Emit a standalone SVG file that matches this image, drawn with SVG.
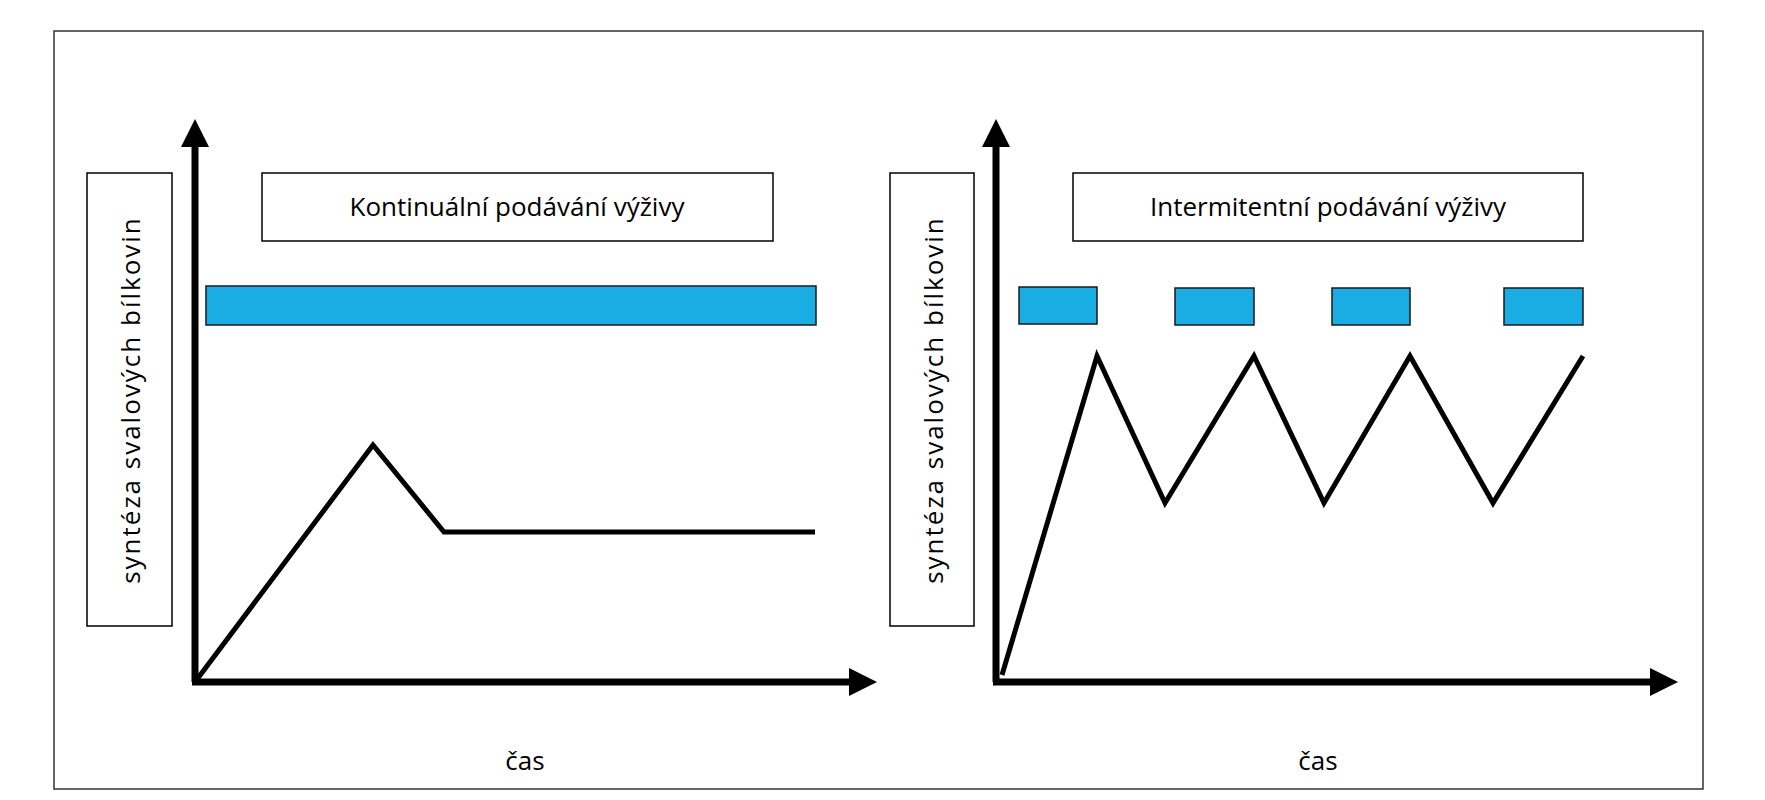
<svg xmlns="http://www.w3.org/2000/svg" width="1765" height="800" viewBox="0 0 1765 800">
<style>
.box{fill:#fff;stroke:#000;stroke-width:1.5}
.bar{fill:#19ade4;stroke:#1a1a1a;stroke-width:1.5}
.axis{stroke:#000;stroke-width:7;fill:none}
.plot{stroke:#000;stroke-width:5;fill:none;stroke-linejoin:miter}
text{font-family:"Open Sans","Liberation Sans",sans-serif;fill:#000}
.t{font-size:26px}
</style>
<defs>
<marker id="ah" markerWidth="4" markerHeight="4" refX="1" refY="2" orient="auto" markerUnits="strokeWidth"><path d="M0,0 L4,2 L0,4 z" fill="#000"/></marker>
</defs>
<rect x="0" y="0" width="1765" height="800" fill="#fff"/>
<rect x="54" y="31" width="1649" height="758" fill="none" stroke="#333" stroke-width="1.5"/>
<g id="connectors">
<path class="axis" d="M195,682 V140" marker-end="url(#ah)"/>
<path class="axis" d="M192,682 H856" marker-end="url(#ah)"/>
<path class="axis" d="M996,682 V140" marker-end="url(#ah)"/>
<path class="axis" d="M993,682 H1657" marker-end="url(#ah)"/>
<polyline class="plot" points="195,682 373,445 444,532 815,532"/>
<polyline class="plot" points="1002,675 1097,356 1165,503 1254,356 1324,503 1410,356 1493,503 1583,356"/>
</g>
<g id="left-ylabel"><rect class="box" x="87" y="173" width="85" height="453"/><text class="t" transform="translate(140,400) rotate(-90)" text-anchor="middle" letter-spacing="2">syntéza svalových bílkovin</text></g>
<g id="left-title"><rect class="box" x="262" y="173" width="511" height="68"/><text class="t" x="517" y="216" text-anchor="middle">Kontinuální podávání výživy</text></g>
<g id="left-bar"><rect class="bar" x="206" y="286" width="610" height="39"/></g>
<g id="left-xlabel"><text class="t" x="525" y="770" text-anchor="middle">čas</text></g>
<g id="right-ylabel"><rect class="box" x="890" y="173" width="84" height="453"/><text class="t" transform="translate(943,400) rotate(-90)" text-anchor="middle" letter-spacing="2">syntéza svalových bílkovin</text></g>
<g id="right-title"><rect class="box" x="1073" y="173" width="510" height="68"/><text class="t" x="1328" y="216" text-anchor="middle">Intermitentní podávání výživy</text></g>
<g id="right-bars">
<rect class="bar" x="1019" y="287" width="78" height="37"/>
<rect class="bar" x="1175" y="288" width="79" height="37"/>
<rect class="bar" x="1332" y="288" width="78" height="37"/>
<rect class="bar" x="1504" y="288" width="79" height="37"/>
</g>
<g id="right-xlabel"><text class="t" x="1318" y="770" text-anchor="middle">čas</text></g>
</svg>
